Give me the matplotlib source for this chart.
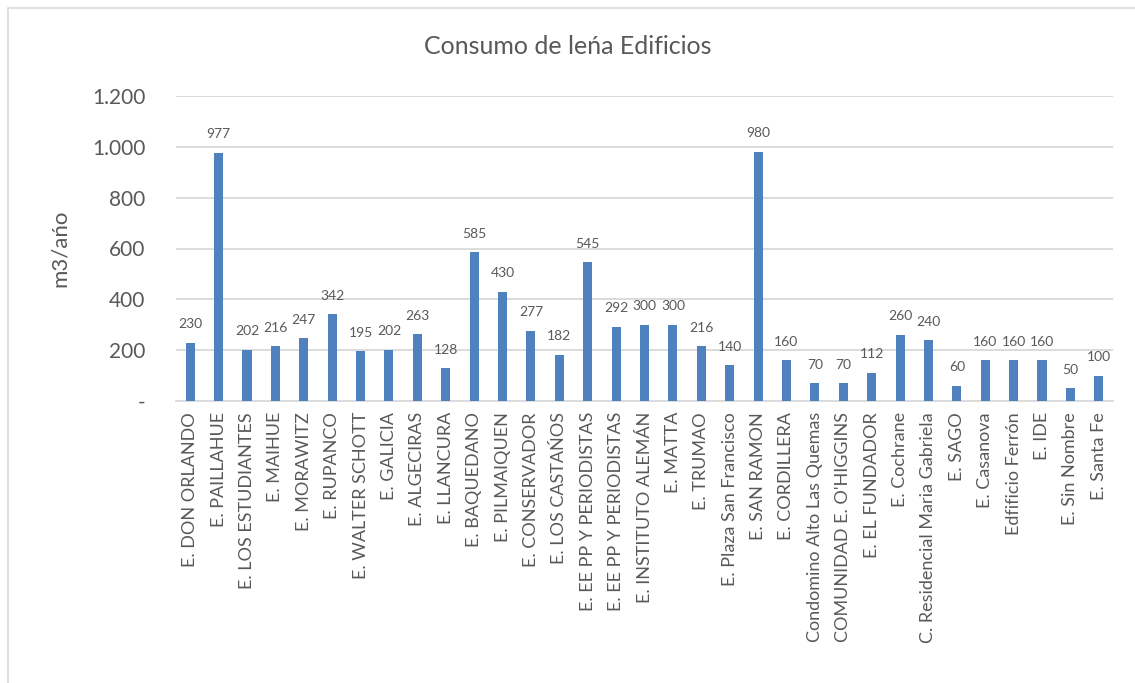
import matplotlib.pyplot as plt
from matplotlib.ticker import FuncFormatter
from matplotlib.patches import Rectangle

plt.rcParams['font.family'] = ['Lato', 'DejaVu Sans']

# Consumo por edificio
edificios = [
    "E. DON ORLANDO", "E. PAILLAHUE", "E. LOS ESTUDIANTES", "E. MAIHUE",
    "E. MORAWITZ", "E. RUPANCO", "E. WALTER SCHOTT", "E. GALICIA",
    "E. ALGECIRAS", "E. LLANCURA", "E. BAQUEDANO", "E. PILMAIQUEN",
    "E. CONSERVADOR", "E. LOS CASTAŃOS", "E. EE PP Y PERIODISTAS",
    "E. EE PP Y PERIODISTAS", "E. INSTITUTO ALEMÁN", "E. MATTA", "E. TRUMAO",
    "E. Plaza San Francisco", "E. SAN RAMON", "E. CORDILLERA",
    "Condomino Alto Las Quemas", "COMUNIDAD E. O'HIGGINS", "E. EL FUNDADOR",
    "E. Cochrane", "C. Residencial Maria Gabriela", "E. SAGO", "E. Casanova",
    "Edfificio Ferrón", "E. IDE", "E. Sin Nombre", "E. Santa Fe",
]
consumo = [230, 977, 202, 216, 247, 342, 195, 202, 263, 128, 585, 430, 277,
           182, 545, 292, 300, 300, 216, 140, 980, 160, 70, 70, 112, 260, 240,
           60, 160, 160, 160, 50, 100]

gris = '#595959'
azul = '#4F81BD'

fig = plt.figure(figsize=(11.35, 6.83), dpi=100)
# marco del grafico
fig.patches.append(Rectangle((8 / 1135, -0.1), 1.2, 1.1 - 8 / 683, transform=fig.transFigure,
                             fill=False, edgecolor='#D9D9D9', linewidth=1.2))

ax = fig.add_axes([176 / 1135, 1 - 401 / 683, (1113 - 176) / 1135, (401 - 96) / 683])
x = range(len(edificios))
bars = ax.bar(x, consumo, width=0.32, color=azul, zorder=3)

for b, v in zip(bars, consumo):
    ax.annotate(str(v), (b.get_x() + b.get_width() / 2, v), xytext=(0, 9),
                textcoords='offset points', ha='center', va='bottom',
                fontsize=10, color=gris)

ax.set_xlim(-0.5, len(edificios) - 0.5)
ax.set_ylim(0, 1200)
ax.set_yticks(range(0, 1201, 200))
ax.yaxis.set_major_formatter(FuncFormatter(
    lambda v, p: '-' if v == 0 else f"{int(v):,}".replace(',', '.')))
ax.grid(axis='y', color='#D9D9D9', linewidth=1.3, zorder=0)
ax.set_xticks(list(x))
ax.set_xticklabels(edificios, rotation=90, fontsize=13, color=gris)
ax.tick_params(axis='y', labelsize=15, labelcolor=gris, length=0, pad=22)
ax.tick_params(axis='x', length=0, pad=8)
for s in ['top', 'right', 'left']:
    ax.spines[s].set_visible(False)
ax.spines['bottom'].set_color('#D9D9D9')
ax.spines['bottom'].set_linewidth(1.3)

ax.set_ylabel('m3/ańo', fontsize=16, color=gris, labelpad=16)
fig.text(0.5, 1 - 47 / 683, 'Consumo de leńa Edificios', ha='center', va='center',
         fontsize=18, color=gris)

fig.savefig('out.png', dpi=100)
